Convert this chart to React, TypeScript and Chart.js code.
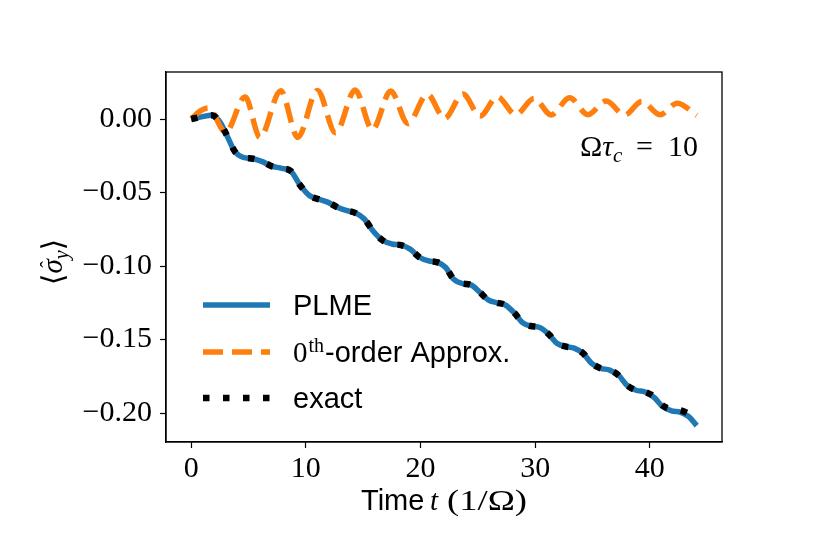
import React, { useEffect, useRef } from 'react';
import { Chart, registerables } from 'chart.js';

Chart.register(...registerables);

// ---- data ----
const plmeT = [0, 0.9, 1.8, 2.5, 3.1, 3.8, 4.5, 5.4, 6.2, 7.0, 7.9, 8.7, 9.5, 10.3, 11.1, 11.9, 12.7, 13.5, 14.3, 15.1, 15.9, 16.7, 17.5, 18.3, 19.1, 19.9, 20.7, 21.5, 22.2, 22.9, 23.6, 24.4, 25.2, 25.9, 26.7, 27.4, 28.2, 28.9, 29.6, 30.4, 31.2, 31.9, 32.7, 33.4, 34.2, 34.9, 35.7, 36.5, 37.3, 38.0, 38.8, 39.6, 40.4, 41.1, 41.9, 42.7, 43.4, 44.1];
const plmeY = [0, 0.0015, 0.0025, -0.002, -0.011, -0.022, -0.026, -0.027, -0.029, -0.032, -0.0335, -0.0355, -0.045, -0.052, -0.0545, -0.0565, -0.0598, -0.0622, -0.0638, -0.068, -0.0765, -0.0825, -0.085, -0.0858, -0.0885, -0.094, -0.0965, -0.0975, -0.101, -0.109, -0.1118, -0.1128, -0.118, -0.123, -0.125, -0.1265, -0.132, -0.1385, -0.1408, -0.1418, -0.1465, -0.1525, -0.1548, -0.1558, -0.1595, -0.166, -0.1695, -0.1708, -0.1745, -0.181, -0.1845, -0.1857, -0.1895, -0.1955, -0.1985, -0.1995, -0.2025, -0.2085];

const approxT = [0, 0.8, 1.5, 3.0, 4.7, 6.0, 7.8, 9.3, 11.0, 12.6, 14.3, 15.8, 17.4, 18.9, 20.6, 22.1, 23.7, 25.2, 26.7, 28.3, 29.9, 31.4, 33.0, 34.6, 36.2, 37.8, 39.3, 40.9, 42.4, 44.1];
const approxY = [0, 0.0055, 0.0075, -0.009, 0.015, -0.0125, 0.0193, -0.0125, 0.0195, -0.0093, 0.0197, -0.0072, 0.019, -0.003, 0.0168, 0.0005, 0.017, 0.002, 0.0152, 0.003, 0.014, 0.0028, 0.0145, 0.003, 0.0122, 0.0028, 0.012, 0.003, 0.0108, 0.0025];

const exactT = [0, 0.9, 1.8, 2.5, 3.1, 3.8, 4.5, 5.4, 6.2, 7.0, 7.9, 8.7, 9.5, 10.3, 11.1, 11.9, 12.7, 13.5, 14.3, 15.1, 15.9, 16.7, 17.5, 18.3, 19.1, 19.9, 20.7, 21.5, 22.2, 22.9, 23.6, 24.4, 25.2, 25.9, 26.7, 27.4, 28.2, 28.9, 29.6, 30.4, 31.2, 31.9, 32.7, 33.4, 34.2, 34.9, 35.7, 36.5, 37.3, 38.0, 38.8, 39.6, 40.4, 41.1, 41.9, 42.7, 43.4];
const exactY = [0, 0.0015, 0.0025, -0.002, -0.011, -0.022, -0.026, -0.027, -0.029, -0.032, -0.0335, -0.0355, -0.045, -0.052, -0.0545, -0.0565, -0.0598, -0.0622, -0.0638, -0.068, -0.0765, -0.0825, -0.085, -0.0858, -0.0885, -0.094, -0.0965, -0.0975, -0.101, -0.109, -0.1118, -0.1128, -0.118, -0.123, -0.125, -0.1265, -0.132, -0.1385, -0.1408, -0.1418, -0.1465, -0.1525, -0.1548, -0.1558, -0.1595, -0.166, -0.1695, -0.1708, -0.1745, -0.181, -0.1845, -0.1857, -0.189, -0.1948, -0.1975, -0.1982, -0.2005];

const seriesLabels = ['PLME', '0th-order Approx.', 'exact'];
const xTicks = [0, 10, 20, 30, 40];
const yTicks = [0, -0.05, -0.1, -0.15, -0.2];
const xRange = [-2.2, 46.3];
const yRange = [-0.2197, 0.032];

const SERIF = '"Liberation Serif", "DejaVu Serif", serif';
const SANS = '"Liberation Sans", "DejaVu Sans", sans-serif';
const MATHSYM = '"DejaVu Serif", "Liberation Serif", serif';

const fmtY = (v: number) => {
  const s = Math.abs(v).toFixed(2);
  return v < -1e-9 ? '\u2212' + s : s;
};

const decorPlugin = {
  id: 'decor',
  afterDatasetsDraw(chart: any) {
    const { ctx, chartArea: a } = chart;
    ctx.save();
    // frame
    ctx.strokeStyle = '#000';
    ctx.lineWidth = 1.3;
    ctx.setLineDash([]);
    ctx.strokeRect(a.left, a.top, a.right - a.left, a.bottom - a.top);

    // legend
    const hx0 = a.left + 37;
    const hx1 = a.left + 104;
    const tx = a.left + 127;
    const rows = [a.top + 233, a.top + 280, a.top + 326];
    chart.data.datasets.forEach((ds: any, i: number) => {
      const y = rows[i];
      ctx.save();
      ctx.strokeStyle = ds.borderColor;
      ctx.lineWidth = ds.borderWidth;
      ctx.setLineDash(ds.borderDash || []);
      ctx.lineDashOffset = 0;
      ctx.lineCap = 'butt';
      ctx.beginPath();
      ctx.moveTo(hx0, y);
      ctx.lineTo(hx1, y);
      ctx.stroke();
      ctx.restore();
      ctx.fillStyle = '#000';
      ctx.textBaseline = 'alphabetic';
      ctx.textAlign = 'left';
      const base = y + 10;
      if (i === 1) {
        ctx.font = `29px ${SERIF}`;
        ctx.fillText('0', tx, base);
        let x = tx + ctx.measureText('0').width + 1;
        ctx.font = `20px ${SERIF}`;
        ctx.fillText('th', x, base - 10);
        x += ctx.measureText('th').width + 1;
        ctx.font = `29px ${SANS}`;
        ctx.fillText('-order Approx.', x, base);
      } else {
        ctx.font = `29px ${SANS}`;
        ctx.fillText(ds.label, tx, base);
      }
    });

    // annotation  Ωτ_c = 10
    {
      let x = a.left + 414;
      const base = a.top + 84;
      ctx.fillStyle = '#000';
      ctx.font = `30px ${SERIF}`;
      ctx.fillText('\u03A9', x, base);
      x += ctx.measureText('\u03A9').width;
      ctx.font = `italic 30px ${SERIF}`;
      ctx.fillText('\u03C4', x, base);
      x += ctx.measureText('\u03C4').width;
      ctx.font = `italic 21px ${SERIF}`;
      ctx.fillText('c', x, base + 6);
      ctx.font = `30px ${SERIF}`;
      ctx.fillText('=', a.left + 470, base);
      ctx.fillText('10', a.left + 502, base);
    }
    ctx.restore();
  },
  afterDraw(chart: any) {
    const { ctx, chartArea: a } = chart;
    ctx.save();
    ctx.fillStyle = '#000';
    ctx.textBaseline = 'alphabetic';
    ctx.textAlign = 'left';
    // x title: Time t (1/Ω)
    {
      const base = 510;
      ctx.font = `29px ${SANS}`;
      ctx.fillText('Time', 361, base);
      ctx.font = `italic 29px ${SERIF}`;
      ctx.fillText('t', 430, base);
      ctx.font = `29px ${SERIF}`;
      const s = '(1/\u03A9)';
      const w = ctx.measureText(s).width;
      ctx.save();
      ctx.translate(447, base);
      ctx.scale(80 / w, 1);
      ctx.fillText(s, 0, 0);
      ctx.restore();
    }
    // y title: <σ̂_y>
    {
      ctx.save();
      ctx.translate(52, (a.top + a.bottom) / 2 + 5);
      ctx.rotate(-Math.PI / 2);
      const base = 10;
      const parts: [string, string, number][] = [
        ['\u27E8', `30px ${MATHSYM}`, 1],
        ['\u03C3', `italic 29px ${SERIF}`, 0],
        ['y', `italic 20px ${SERIF}`, 6],
        ['\u27E9', `30px ${MATHSYM}`, 1],
      ];
      let total = 0;
      const widths = parts.map(([t, f]) => {
        ctx.font = f;
        const w = ctx.measureText(t).width;
        total += w;
        return w;
      });
      let x = -total / 2;
      parts.forEach(([t, f, dy], i) => {
        ctx.font = f;
        ctx.fillText(t, x, base + dy);
        if (i === 1) {
          ctx.font = `20px ${SERIF}`;
          const hw = ctx.measureText('\u02C6').width;
          ctx.fillText('\u02C6', x + widths[i] / 2 - hw / 2 + 2, base - 7);
        }
        x += widths[i];
      });
      ctx.restore();
    }
    ctx.restore();
  },
};

export default function App() {
  const ref = useRef<HTMLCanvasElement>(null);
  useEffect(() => {
    const canvas = ref.current;
    if (!canvas) return;
    const toPts = (xs: number[], ys: number[]) => xs.map((x, i) => ({ x, y: ys[i] }));
    const chart = new Chart(canvas, {
      type: 'line',
      data: {
        datasets: [
          {
            label: seriesLabels[0],
            data: toPts(plmeT, plmeY),
            borderColor: '#1f77b4',
            borderWidth: 5.5,
            pointRadius: 0,
            cubicInterpolationMode: 'monotone',
            fill: false,
            order: 3,
          },
          {
            label: seriesLabels[1],
            data: toPts(approxT, approxY),
            borderColor: '#ff7f0e',
            borderWidth: 5.5,
            borderDash: [20, 9],
            pointRadius: 0,
            cubicInterpolationMode: 'monotone',
            fill: false,
            order: 2,
          },
          {
            label: seriesLabels[2],
            data: toPts(exactT, exactY),
            borderColor: '#000000',
            borderWidth: 6.5,
            borderDash: [6.5, 13.5],
            pointRadius: 0,
            cubicInterpolationMode: 'monotone',
            fill: false,
            order: 1,
          },
        ],
      } as any,
      options: {
        animation: false,
        responsive: false,
        events: [],
        layout: { padding: { top: 72, right: 108, bottom: 0, left: 0 } },
        plugins: { legend: { display: false }, tooltip: { enabled: false } },
        scales: {
          x: {
            type: 'linear',
            min: xRange[0],
            max: xRange[1],
            afterBuildTicks: (s: any) => {
              s.ticks = xTicks.map((v) => ({ value: v }));
            },
            afterFit: (s: any) => {
              s.height = 112;
            },
            ticks: {
              color: '#000',
              font: { family: SERIF, size: 30 },
              padding: 3,
              maxRotation: 0,
              autoSkip: false,
              callback: (v: any) => String(v),
            },
            grid: {
              display: true,
              drawOnChartArea: false,
              drawTicks: true,
              tickLength: 6,
              tickColor: '#000',
              tickWidth: 1.2,
            },
            border: { display: true, color: '#000', width: 1.3 },
          },
          y: {
            type: 'linear',
            min: yRange[0],
            max: yRange[1],
            afterBuildTicks: (s: any) => {
              s.ticks = yTicks.map((v) => ({ value: v }));
            },
            afterFit: (s: any) => {
              s.width = 166;
            },
            ticks: {
              color: '#000',
              font: { family: SERIF, size: 30 },
              padding: 8,
              autoSkip: false,
              callback: (v: any) => fmtY(Number(v)),
            },
            grid: {
              display: true,
              drawOnChartArea: false,
              drawTicks: true,
              tickLength: 6,
              tickColor: '#000',
              tickWidth: 1.2,
            },
            border: { display: true, color: '#000', width: 1.3 },
          },
        },
      } as any,
      plugins: [decorPlugin],
    });
    return () => chart.destroy();
  }, []);
  return (
    <div style={{ position: 'absolute', left: 0, top: 0, width: 830, height: 554, background: '#fff' }}>
      <canvas ref={ref} width={830} height={554} style={{ width: 830, height: 554, display: 'block' }} />
    </div>
  );
}
